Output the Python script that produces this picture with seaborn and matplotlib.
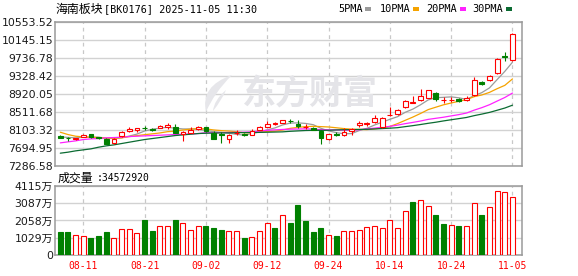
import numpy as np
import pandas as pd
import matplotlib
matplotlib.use("Agg")
import matplotlib.pyplot as plt
import seaborn as sns
from matplotlib.patches import Rectangle, PathPatch
from matplotlib.path import Path

# ---------------- data ----------------
dates = ["08-06", "08-07", "08-08", "08-11", "08-12", "08-13", "08-14", "08-15", "08-18", "08-19",
         "08-20", "08-21", "08-22", "08-25", "08-26", "08-27", "08-28", "08-29", "09-01", "09-02",
         "09-03", "09-04", "09-05", "09-08", "09-09", "09-10", "09-11", "09-12", "09-15", "09-16",
         "09-17", "09-18", "09-19", "09-22", "09-23", "09-24", "09-25", "09-26", "09-29", "09-30",
         "10-09", "10-10", "10-13", "10-14", "10-15", "10-16", "10-17", "10-20", "10-21", "10-22",
         "10-23", "10-24", "10-27", "10-28", "10-29", "10-30", "10-31", "11-03", "11-04", "11-05"]

opens = [7967.2, 7921.8, 7884.0, 7944.5, 8005.0, 7929.4, 7899.1, 7793.2, 7959.6, 8073.0,
         8095.7, 8148.7, 8118.4, 8141.1, 8156.2, 8171.4, 8005.0, 8035.2, 8118.4, 8156.2,
         8035.2, 7997.4, 7884.0, 8020.1, 7997.4, 7989.9, 8103.3, 8171.4, 8239.0, 8262.1,
         8307.5, 8231.9, 8163.8, 8133.5, 8073.0, 7884.0, 8005.0, 7974.7, 8073.0, 8201.6,
         8231.9, 8269.7, 8156.2, 8428.5, 8451.2, 8610.0, 8715.9, 8768.8, 8829.3, 8942.7,
         8768.8, 8768.8, 8799.0, 8776.4, 8882.2, 9192.3, 9230.1, 9381.3, 9767.0, 9683.8]
closes = [7921.8, 7914.2, 7906.7, 7982.3, 7929.4, 7914.2, 7785.7, 7899.1, 8050.4, 8126.0,
          8141.1, 8133.5, 8095.7, 8186.5, 8216.7, 8035.2, 8050.4, 8095.7, 8163.8, 8065.5,
          7899.1, 7982.3, 7989.9, 8035.2, 7974.7, 8080.6, 8163.8, 8231.9, 8247.0, 8315.1,
          8292.4, 8186.5, 8171.4, 8103.3, 7906.7, 7997.4, 7989.9, 8042.8, 8118.4, 8254.5,
          8247.0, 8368.0, 8368.0, 8443.6, 8549.5, 8746.1, 8731.0, 8859.5, 8995.7, 8806.6,
          8783.9, 8783.9, 8753.7, 8821.7, 9222.5, 9131.8, 9320.9, 9699.0, 9751.9, 10266.2]
highs = [7982.3, 7936.9, 7921.8, 8005.0, 8012.6, 7936.9, 7914.2, 7914.2, 8073.0, 8163.8,
         8148.7, 8186.5, 8133.5, 8216.7, 8254.5, 8224.3, 8065.5, 8156.2, 8178.9, 8171.4,
         8065.5, 8050.4, 8012.6, 8095.7, 8020.1, 8118.4, 8186.5, 8307.5, 8284.8, 8330.2,
         8337.7, 8322.6, 8224.3, 8156.2, 8088.2, 8012.6, 8058.0, 8133.5, 8133.5, 8300.0,
         8284.8, 8436.1, 8398.2, 8610.0, 8572.2, 8768.8, 8867.1, 9018.4, 9010.8, 8965.4,
         8836.9, 8852.0, 8814.2, 8874.7, 9290.6, 9207.4, 9351.1, 9721.7, 9865.3, 10296.4]
lows = [7906.7, 7838.6, 7868.9, 7929.4, 7921.8, 7899.1, 7770.6, 7778.1, 7944.5, 8042.8,
        8050.4, 8088.2, 8073.0, 8133.5, 8126.0, 8020.1, 7853.7, 8020.1, 8103.3, 8050.4,
        7884.0, 7793.2, 7793.2, 7982.3, 7959.6, 7974.7, 8088.2, 8156.2, 8216.7, 8247.0,
        8262.1, 8133.5, 8126.0, 8088.2, 7785.7, 7868.9, 7959.6, 7952.1, 7982.3, 8171.4,
        8186.5, 8254.5, 8141.1, 8420.9, 8436.1, 8594.9, 8700.7, 8746.1, 8814.2, 8761.2,
        8700.7, 8738.5, 8738.5, 8761.2, 8867.1, 9109.1, 9215.0, 9366.2, 9668.7, 9668.7]

ma5 = [7935.0, 7925.0, 7915.0, 7925.0, 7930.9, 7929.4, 7903.7, 7902.1, 7915.8, 7955.1,
       8000.5, 8070.0, 8109.3, 8136.6, 8154.7, 8133.5, 8116.9, 8116.9, 8112.4, 8082.1,
       8054.9, 8041.3, 8020.1, 7994.4, 7976.2, 8012.5, 8048.8, 8097.2, 8139.6, 8207.7,
       8250.0, 8254.6, 8242.5, 8213.7, 8132.1, 8073.1, 8033.7, 8008.0, 8011.0, 8080.6,
       8130.5, 8206.1, 8271.2, 8336.2, 8395.2, 8495.0, 8567.6, 8665.9, 8776.4, 8827.8,
       8835.3, 8845.9, 8824.8, 8790.0, 8873.1, 8942.7, 9050.1, 9239.2, 9425.2, 9634.0]
ma10 = [8042.8, 7989.9, 7952.1, 7936.9, 7929.4, 7921.8, 7906.7, 7906.7, 7914.2, 7943.0,
        7965.0, 7986.9, 8005.7, 8026.2, 8054.9, 8067.0, 8093.5, 8113.1, 8124.5, 8118.4,
        8094.2, 8079.1, 8068.5, 8053.4, 8029.2, 8033.7, 8045.1, 8058.7, 8067.0, 8092.0,
        8131.3, 8151.7, 8169.9, 8176.7, 8169.9, 8161.6, 8144.2, 8125.3, 8112.4, 8106.4,
        8101.8, 8119.9, 8139.6, 8173.6, 8237.9, 8312.8, 8386.9, 8468.6, 8556.3, 8611.5,
        8665.2, 8706.8, 8745.4, 8783.2, 8850.5, 8889.0, 8948.0, 9032.0, 9107.6, 9253.6]
ma20 = [7800.8, 7823.5, 7846.2, 7876.4, 7891.5, 7899.1, 7914.2, 7921.8, 7929.4, 7944.5,
        7952.1, 7959.6, 7967.2, 7974.7, 7982.3, 7989.9, 7997.4, 8005.0, 8012.6, 8030.7,
        8029.6, 8033.0, 8037.1, 8039.8, 8042.1, 8050.4, 8069.3, 8085.9, 8095.8, 8105.2,
        8112.8, 8115.4, 8119.2, 8115.1, 8099.6, 8097.7, 8094.7, 8092.0, 8089.7, 8099.2,
        8116.6, 8135.8, 8154.8, 8175.2, 8203.9, 8237.2, 8265.6, 8297.0, 8334.4, 8359.0,
        8383.5, 8413.4, 8442.5, 8478.4, 8544.2, 8600.9, 8667.5, 8750.3, 8832.0, 8932.6]
ma30 = [7566.4, 7589.1, 7619.3, 7642.0, 7664.7, 7702.5, 7732.8, 7755.5, 7785.7, 7816.0,
        7846.2, 7876.4, 7899.1, 7921.8, 7944.5, 7967.2, 7982.3, 7997.4, 8012.6, 8020.1,
        8023.9, 8027.7, 8027.7, 8031.5, 8035.2, 8035.2, 8039.0, 8042.8, 8046.6, 8051.1,
        8063.5, 8072.6, 8081.4, 8085.4, 8084.7, 8087.4, 8094.3, 8099.0, 8101.3, 8105.6,
        8109.1, 8116.9, 8126.0, 8134.6, 8145.7, 8169.4, 8192.1, 8217.5, 8245.2, 8270.0,
        8299.4, 8326.1, 8351.6, 8377.8, 8419.4, 8454.5, 8493.0, 8542.0, 8592.1, 8657.2]

volumes = [1345, 1345, 1204, 1144, 1024, 1144, 1385, 1024, 1545, 1545,
           1325, 2107, 1445, 1746, 1746, 2107, 1927, 1505, 1746, 1746,
           1626, 1505, 1445, 1445, 1024, 1084, 1445, 1927, 1626, 2408,
           1887, 2970, 2028, 1372, 1610, 1173, 1133, 1411, 1411, 1471,
           1650, 1710, 1590, 2068, 1590, 2604, 3161, 3260, 2902, 2386,
           1849, 1769, 1730, 1710, 3081, 2386, 2843, 3797, 3737, 3457.292]
vol_up = [0, 0, 1, 1, 0, 0, 0, 1, 1, 1,
          1, 0, 0, 1, 1, 0, 1, 1, 1, 0,
          0, 0, 1, 1, 0, 1, 1, 1, 0, 1,
          0, 0, 0, 0, 0, 1, 0, 1, 1, 1,
          1, 1, 1, 1, 1, 1, 0, 1, 1, 0,
          0, 1, 0, 1, 1, 0, 1, 1, 1, 1]

price_ticks = [7286.58, 7694.95, 8103.32, 8511.68, 8920.05, 9328.42, 9736.78, 10145.15, 10553.52]
vol_ticks = [0, 1029, 2058, 3087, 4115]
vol_tick_labels = ["0", "1029万", "2058万", "3087万", "4115万"]
date_tick_idx = [3, 11, 19, 27, 35, 43, 51, 59]
ma_labels = ["5PMA", "10PMA", "20PMA", "30PMA"]
ma_colors = ["#9b9b9b", "#f5a300", "#ff22ff", "#0b6b32"]
title_cn = "海南板块"
title_rest = "[BK0176] 2025-11-05 11:30"
vol_title = "成交量"
vol_last = ":34572920"
watermark = "东方财富"

RED = "#ff0000"
GREEN = "#008000"

# ---------------- figure ----------------
sns.set_style("white")
plt.rcParams["font.family"] = ["DejaVu Sans", "Noto Sans CJK SC"]

W, H = 578, 276
fig = plt.figure(figsize=(W / 100, H / 100), dpi=100)


def fx(px):
    return px / W


def fy(py):
    return 1 - py / H


ax = fig.add_axes([fx(55), fy(165.5), (522 - 55) / W, (165.5 - 21.7) / H])
axv = fig.add_axes([fx(55), fy(255), (522 - 55) / W, (255 - 186) / H])

n = len(closes)
x = np.arange(n)
o = np.array(opens)
c = np.array(closes)
hi = np.array(highs)
lo = np.array(lows)

# moving averages via seaborn
df = pd.DataFrame({
    "idx": np.tile(x, 4),
    "val": np.concatenate([ma5, ma10, ma20, ma30]),
    "ma": np.repeat(ma_labels, n),
})
sns.lineplot(data=df, x="idx", y="val", hue="ma", palette=dict(zip(ma_labels, ma_colors)),
             estimator=None, legend=False, linewidth=0.9, ax=ax, zorder=2)

# candlesticks
up = c >= o
ccol = np.where(up, RED, GREEN)
ax.vlines(x, lo, hi, colors=ccol, linewidth=0.8, zorder=3)
body_bottom = np.minimum(o, c)
body_h = np.maximum(np.abs(c - o), 2.0)
ax.bar(x, body_h, bottom=body_bottom, width=0.62, color=np.where(up, "white", GREEN),
       edgecolor=ccol, linewidth=0.8, zorder=4)

xlim = (-0.69, 60.24)
ax.set_xlim(*xlim)
ax.set_ylim(price_ticks[0], price_ticks[-1])
ax.set_yticks(price_ticks)
ax.set_yticklabels([f"{t:.2f}" for t in price_ticks])
ax.set_xticks(date_tick_idx)
ax.set_xticklabels([])
ax.set_xlabel("")
ax.set_ylabel("")

# volume
vu = np.array(vol_up).astype(bool)
vcol = np.where(vu, RED, GREEN)
axv.bar(x, volumes, width=0.66, color=np.where(vu, "white", GREEN), edgecolor=vcol,
        linewidth=0.8, zorder=3)
axv.set_xlim(*xlim)
axv.set_ylim(0, vol_ticks[-1])
axv.set_yticks(vol_ticks)
axv.set_yticklabels(vol_tick_labels)
axv.set_xticks(date_tick_idx)
axv.set_xticklabels([dates[i] for i in date_tick_idx], color=RED,
                    fontsize=7.0, family="DejaVu Sans Mono")

for a in (ax, axv):
    a.set_axisbelow(True)
    a.grid(axis="y", color="#d2d2d2", linewidth=1.0, linestyle="-")
    a.grid(axis="x", color="#c8c8c8", linewidth=0.9, linestyle=(0, (3, 3)))
    a.tick_params(length=0, pad=1.5, labelsize=7.8, labelcolor="#1a1a1a")
    for s in a.spines.values():
        s.set_color("#9a9a9a")
        s.set_linewidth(1.1)
axv.tick_params(axis="x", pad=4.5, labelcolor=RED, labelsize=7.0)

# watermark
ax.text(0.545, 0.50, watermark, transform=ax.transAxes, ha="center", va="center",
        fontsize=24.5, fontweight="bold", color="#e4e4e8", family="Noto Sans CJK SC", zorder=1)


def P(px, py):
    return (fx(px), fy(py))


verts = [P(232, 75), P(200, 86), P(206, 112), P(214, 93), P(232, 75)]
codes = [Path.MOVETO, Path.CURVE3, Path.CURVE3, Path.CURVE3, Path.CURVE3]
fig.add_artist(PathPatch(Path(verts, codes), transform=fig.transFigure,
                         facecolor="#e6e6ea", edgecolor="none", zorder=0.5))
verts2 = [P(226, 90), P(214, 100), P(213, 111), P(222, 100), P(226, 90)]
fig.add_artist(PathPatch(Path(verts2, codes), transform=fig.transFigure,
                         facecolor="#e6e6ea", edgecolor="none", zorder=0.5))

# title
fig.text(fx(55), fy(9), title_cn, ha="left", va="center", fontsize=8.6,
         family="Noto Sans CJK SC", color="#000000")
fig.text(fx(104), fy(9), title_rest, ha="left", va="center", fontsize=7.3,
         family="DejaVu Sans Mono", color="#000000")

# legend
leg_x = [338, 380, 426, 472]
sw_x = [365, 413, 460, 506]
for lab, col, lx, sx in zip(ma_labels, ma_colors, leg_x, sw_x):
    fig.text(fx(lx), fy(9), lab, ha="left", va="center", fontsize=7.4,
             family="DejaVu Sans Mono", color="#000000")
    fig.add_artist(Rectangle((fx(sx), fy(10.5)), 6 / W, 3 / H, transform=fig.transFigure,
                             facecolor=col, edgecolor="none"))

# volume title
fig.text(fx(58), fy(178), vol_title, ha="left", va="center", fontsize=8.6,
         family="Noto Sans CJK SC", color="#000000")
fig.text(fx(97), fy(178), vol_last, ha="left", va="center", fontsize=7.0,
         family="DejaVu Sans Mono", color="#000000")

fig.savefig("out.png", dpi=100)
